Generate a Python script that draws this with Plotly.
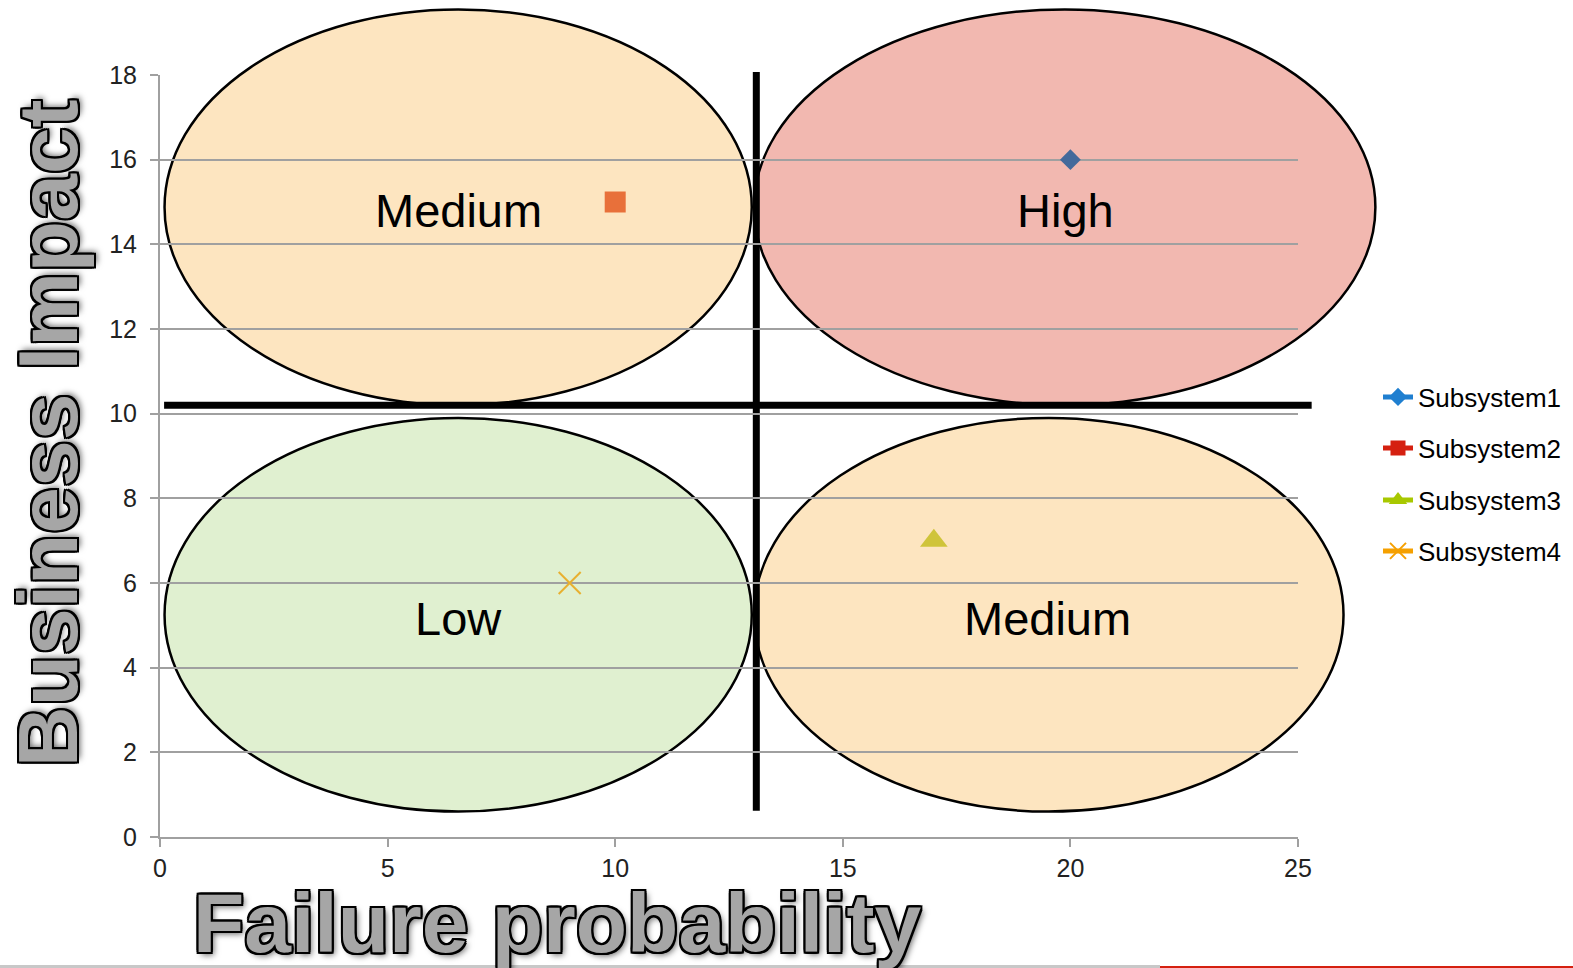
import plotly.graph_objects as go

# ---- data ----
series_names = ["Subsystem1", "Subsystem2", "Subsystem3", "Subsystem4"]
failure_prob = [20, 10, 17, 9]
business_impact = [16, 15, 7, 6]
marker_symbols = ["diamond", "square", "triangle-up", "x-thin"]
marker_colors_plot = ["#44699b", "#e8703a", "#cfc43a", "#e8b030"]
legend_colors = ["#1f7fd0", "#d52010", "#a8c800", "#f5a000"]

zone_labels = ["Medium", "High", "Low", "Medium"]
zone_x = [6.55, 19.9, 6.55, 19.5]
zone_y = [14.8, 14.8, 5.15, 5.15]
# ellipse extents (data units): x0, x1, y0, y1
zone_x0 = [0.1, 13.05, 0.1, 13.05]
zone_x1 = [13.0, 26.7, 13.0, 26.0]
zone_y0 = [10.2, 10.2, 0.6, 0.6]
zone_y1 = [19.55, 19.55, 9.9, 9.9]
zone_fill = ["rgba(251,203,129,0.5)", "rgba(229,113,97,0.5)",
             "rgba(193,225,161,0.5)", "rgba(251,203,129,0.5)"]

divider_x = 13.1
divider_y = 10.2

x_range = [0, 25]
y_range = [0, 18]
x_ticks = [0, 5, 10, 15, 20, 25]
y_ticks = [0, 2, 4, 6, 8, 10, 12, 14, 16, 18]

W, H = 1573, 968
ML, MR, MT, MB = 160, 275, 75, 131
PW, PH = W - ML - MR, H - MT - MB

def px(x):
    return (x - x_range[0]) / (x_range[1] - x_range[0])

def py(y):
    return (y - y_range[0]) / (y_range[1] - y_range[0])

def pix_x(X):
    return (X - ML) / PW

def pix_y(Y):
    return (H - MB - Y) / PH

fig = go.Figure()

sizes_plot = {"diamond": 16, "square": 21, "triangle-up": 24, "x-thin": 22}
sizes_leg = {"diamond": 14, "square": 15, "triangle-up": 17, "x-thin": 17}

# plotted points
for i, name in enumerate(series_names):
    is_x = marker_symbols[i] == "x-thin"
    fig.add_trace(go.Scatter(
        x=[failure_prob[i]], y=[business_impact[i]], mode="markers",
        name=name, showlegend=False,
        marker=dict(symbol=marker_symbols[i], size=sizes_plot[marker_symbols[i]],
                    color=marker_colors_plot[i],
                    line=dict(width=2 if is_x else 0, color=marker_colors_plot[i])),
    ))

# legend entries
legend_keys = ["legend", "legend2", "legend3", "legend4"]
for i, name in enumerate(series_names):
    is_x = marker_symbols[i] == "x-thin"
    fig.add_trace(go.Scatter(
        x=[None], y=[None], mode="lines+markers", name=name,
        legend=legend_keys[i],
        line=dict(color=legend_colors[i], width=5),
        marker=dict(symbol=marker_symbols[i], size=sizes_leg[marker_symbols[i]],
                    color=legend_colors[i],
                    line=dict(width=2 if is_x else 0, color=legend_colors[i])),
    ))

shapes = []
for i in range(4):
    shapes.append(dict(type="circle", xref="paper", yref="paper",
                       x0=px(zone_x0[i]), x1=px(zone_x1[i]),
                       y0=py(zone_y0[i]), y1=py(zone_y1[i]),
                       fillcolor=zone_fill[i], line=dict(color="black", width=2.5),
                       layer="between"))
shapes.append(dict(type="line", xref="paper", yref="paper",
                   x0=px(0.09), x1=px(25.3), y0=py(divider_y), y1=py(divider_y),
                   line=dict(color="black", width=7), layer="between"))
shapes.append(dict(type="line", xref="paper", yref="paper",
                   x0=px(divider_x), x1=px(divider_x), y0=py(0.62), y1=py(18.07),
                   line=dict(color="black", width=7), layer="between"))
# slide edge decorations at the very bottom
shapes.append(dict(type="line", xref="paper", yref="paper",
                   x0=pix_x(0), x1=pix_x(1160), y0=pix_y(966.5), y1=pix_y(966.5),
                   line=dict(color="#c8c8c8", width=3), layer="above"))
shapes.append(dict(type="line", xref="paper", yref="paper",
                   x0=pix_x(1160), x1=pix_x(1573), y0=pix_y(967), y1=pix_y(967),
                   line=dict(color="#d52010", width=2), layer="above"))

annotations = []
for i, lab in enumerate(zone_labels):
    annotations.append(dict(x=zone_x[i], y=zone_y[i], xref="x", yref="y", text=lab,
                            showarrow=False,
                            font=dict(family="Liberation Sans, Arial", size=47, color="black")))

outline = ("-2px -2px 0 #000, 2px -2px 0 #000, -2px 2px 0 #000, 2px 2px 0 #000, "
           "0 2px 0 #000, 2px 0 0 #000, 0 -2px 0 #000, -2px 0 0 #000, "
           "-1px -2px 0 #000, 1px -2px 0 #000, -1px 2px 0 #000, 1px 2px 0 #000, "
           "3px 3px 6px rgba(0,0,0,0.6)")
title_font = dict(family="Liberation Sans, Arial", size=84, color="#a6a6a6",
                  weight="bold", shadow=outline)
annotations.append(dict(text="Failure probability", xref="paper", yref="paper",
                        x=pix_x(557), y=pix_y(923),
                        xanchor="center", yanchor="middle", showarrow=False,
                        font=title_font))
annotations.append(dict(text="Business Impact", xref="paper", yref="paper",
                        x=pix_x(48), y=pix_y(433), textangle=-90,
                        xanchor="center", yanchor="middle", showarrow=False,
                        font=title_font))

legend_common = dict(font=dict(family="Liberation Sans, Arial", size=26, color="black"),
                     bgcolor="rgba(0,0,0,0)", xanchor="left", yanchor="middle",
                     x=pix_x(1378))
legend_ypix = [397, 448, 500, 551]
leg_layout = {}
for k, ypix in zip(legend_keys, legend_ypix):
    leg_layout[k] = dict(legend_common, y=pix_y(ypix))

tick_font = dict(family="Liberation Sans, Arial", size=25, color="#222")
fig.update_layout(
    width=W, height=H,
    margin=dict(l=ML, r=MR, t=MT, b=MB, autoexpand=False),
    paper_bgcolor="white", plot_bgcolor="white",
    xaxis=dict(range=x_range, tickvals=x_ticks, showgrid=False, zeroline=False,
               showline=True, linecolor="#a0a0a0", linewidth=2,
               ticks="outside", ticklen=8, tickcolor="#a0a0a0", tickwidth=2,
               tickfont=tick_font, automargin=False),
    yaxis=dict(range=y_range, tickvals=y_ticks, showgrid=True, gridcolor="#a0a0a0",
               gridwidth=1.5, zeroline=False,
               showline=True, linecolor="#a0a0a0", linewidth=2,
               ticks="outside", ticklen=8, tickcolor="#a0a0a0", tickwidth=2,
               ticklabelstandoff=8,
               tickfont=tick_font, automargin=False),
    shapes=shapes,
    annotations=annotations,
    **leg_layout,
)

fig.write_html("out.html")
